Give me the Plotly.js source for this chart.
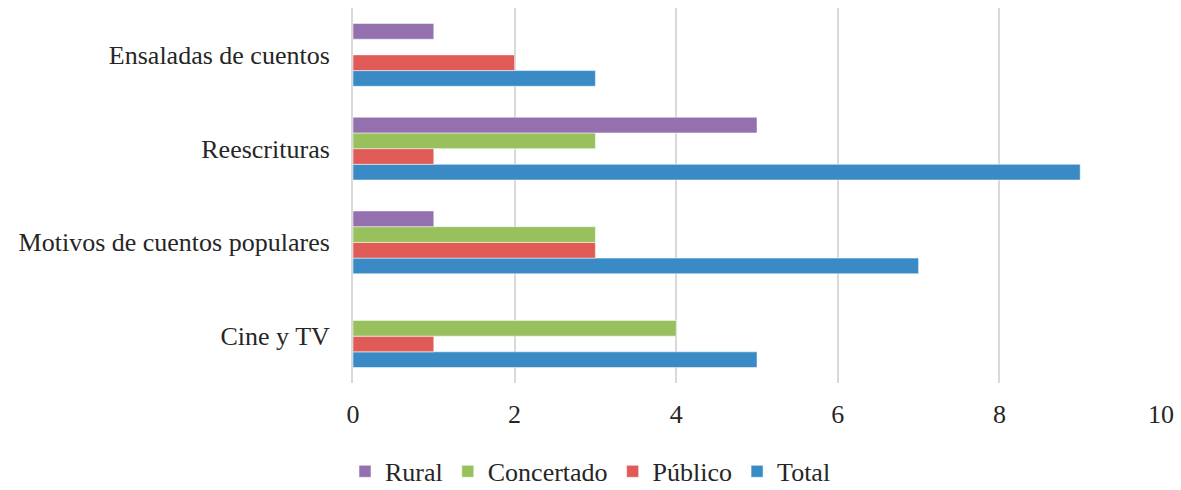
<!DOCTYPE html>
<html>
<head>
<meta charset="utf-8">
<script src="https://cdn.plot.ly/plotly-3.0.1.min.js"></script>
<style>html,body{margin:0;padding:0;background:#fff;}#chart{width:1181px;height:490px;}</style>
</head>
<body>
<div id="chart"></div>
<script>
const categories = ["Cine y TV", "Motivos de cuentos populares", "Reescrituras", "Ensaladas de cuentos"];
const total = [5, 7, 9, 3];
const publico = [1, 3, 1, 2];
const concertado = [4, 3, 3, 0];
const rural = [0, 1, 5, 1];
const xTicks = [0, 2, 4, 6, 8, 10];

const colors = {Total: "#3A8AC6", "Público": "#E05B57", Concertado: "#98C05C", Rural: "#9570AE"};
const series = [["Total", total], ["Público", publico], ["Concertado", concertado], ["Rural", rural]];
const traces = series.map(([name, vals]) => ({
  type: "bar", orientation: "h", name: name, y: categories, x: vals,
  marker: {color: colors[name], line: {color: "rgba(255,255,255,0.5)", width: 1}},
  hoverinfo: "x+name"
}));

const mkFont = (s) => ({family: "Liberation Serif, serif", size: s || 26, color: "#262626"});
Plotly.newPlot("chart", traces, {
  width: 1181, height: 490,
  margin: {l: 353, r: 20, t: 8, b: 107},
  barmode: "group", bargap: 0.33, bargroupgap: 0,
  font: mkFont(),
  paper_bgcolor: "#fff", plot_bgcolor: "#fff",
  xaxis: {range: [0, 10], tickvals: xTicks, ticktext: xTicks.map(String), showgrid: true, gridcolor: "#d9d9d9", gridwidth: 2,
          zeroline: false, showline: false, ticks: "", ticklabelstandoff: 13, tickfont: mkFont(), fixedrange: true, automargin: false},
  yaxis: {type: "category", categoryorder: "array", categoryarray: categories, showline: true, linecolor: "#d9d9d9", linewidth: 2,
          ticks: "", ticklabelstandoff: 16, tickfont: mkFont(), showgrid: false, fixedrange: true, automargin: false},
  showlegend: true,
  legend: {orientation: "h", traceorder: "reversed", x: 0.5, xref: "container", xanchor: "center",
           y: 0.038, yref: "container", yanchor: "middle", font: mkFont(), itemwidth: 30, tracegroupgap: 0},
}, {displayModeBar: false, staticPlot: true});
</script>
</body>
</html>
